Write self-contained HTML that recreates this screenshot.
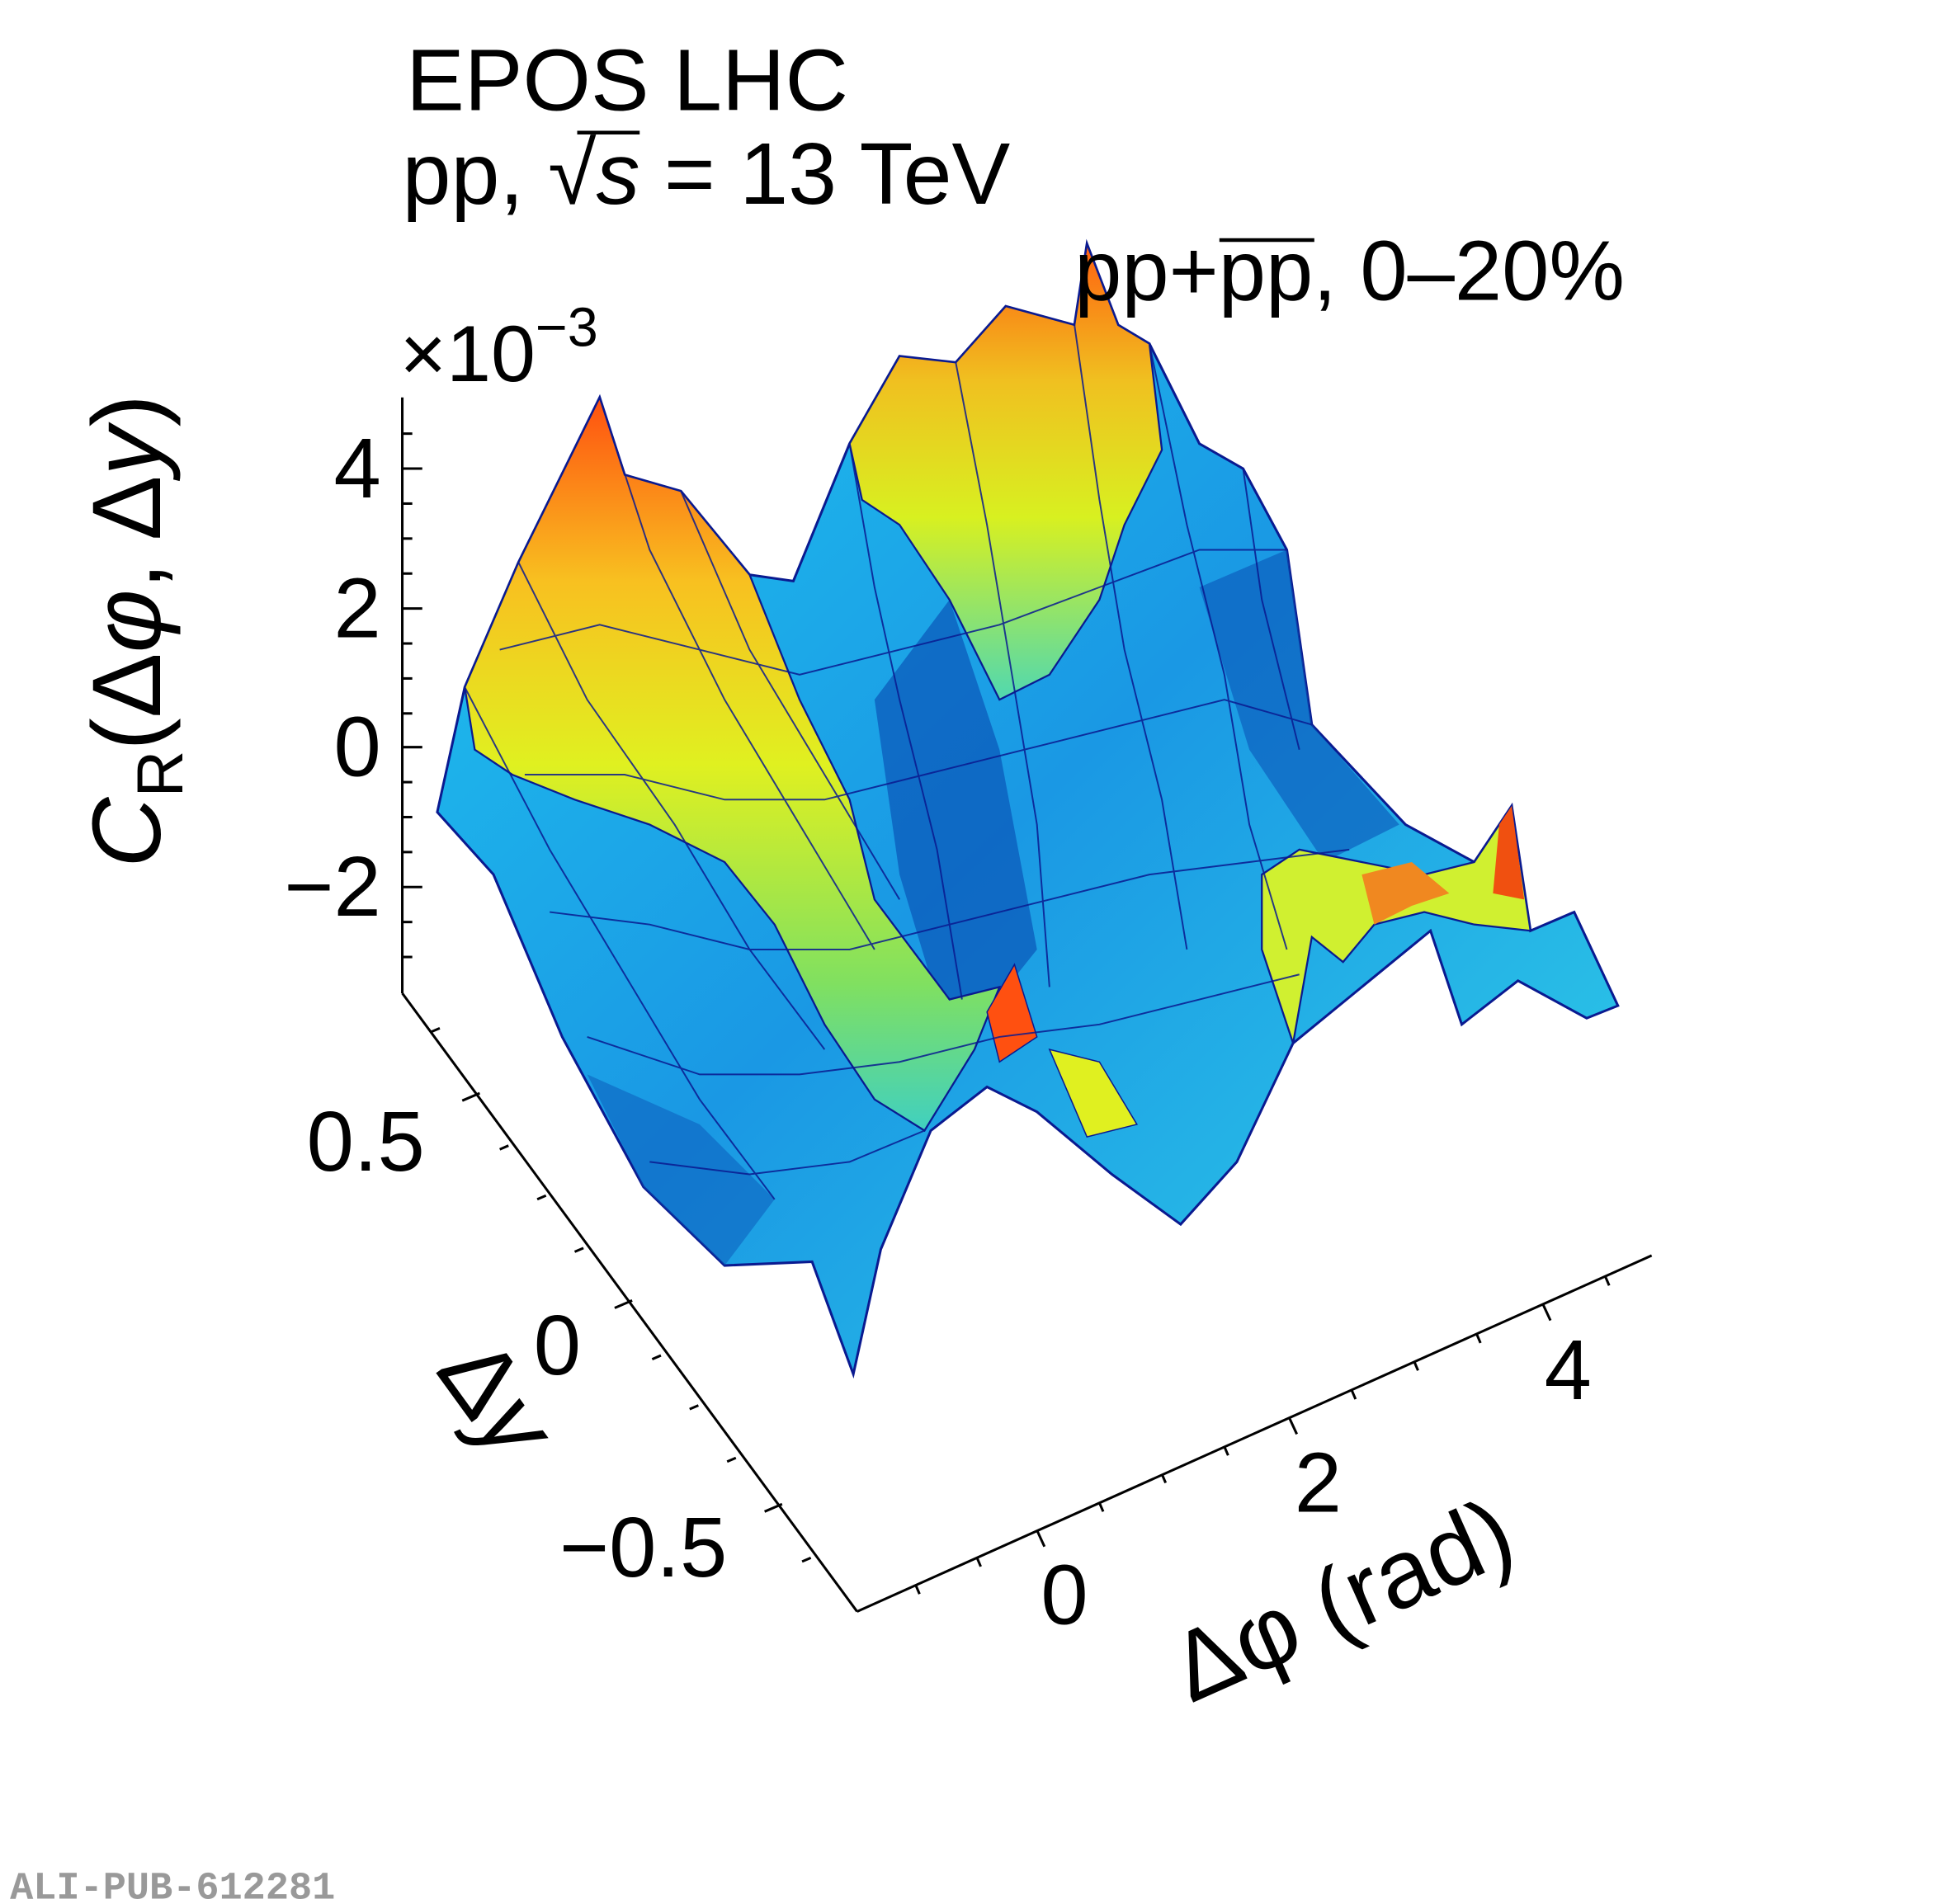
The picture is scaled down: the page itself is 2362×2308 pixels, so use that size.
<!DOCTYPE html>
<html><head><meta charset="utf-8"><style>
html,body{margin:0;padding:0;background:#fff;}
svg{display:block;}
text{font-family:"Liberation Sans",sans-serif;fill:#000;}
</style></head><body>
<svg width="2362" height="2308" viewBox="0 0 1560 1524" xmlns="http://www.w3.org/2000/svg">
<defs>
<linearGradient id="gb" x1="0" y1="0" x2="1" y2="1">
<stop offset="0" stop-color="#20c8f0"/><stop offset="0.5" stop-color="#1a98e4"/><stop offset="1" stop-color="#30d0e8"/>
</linearGradient>
<linearGradient id="gy" x1="0" y1="0" x2="0" y2="1">
<stop offset="0" stop-color="#ff5010"/><stop offset="0.25" stop-color="#f8c020"/><stop offset="0.5" stop-color="#e0f020"/><stop offset="0.8" stop-color="#80e060"/><stop offset="1" stop-color="#40d0c0"/>
</linearGradient>
<linearGradient id="gy2" x1="0" y1="0" x2="0" y2="1">
<stop offset="0" stop-color="#ff6010"/><stop offset="0.3" stop-color="#f0c020"/><stop offset="0.6" stop-color="#d8f020"/><stop offset="1" stop-color="#50d8b0"/>
</linearGradient>
</defs>
<polygon fill="url(#gb)" stroke="#0a1a90" stroke-width="2" points="350,650 372,550 415,450 480,318 500,380 545,393 600,460 635,465 680,355 720,285 765,290 805,245 860,260 870,195 895,260 920,275 960,355 995,375 1030,440 1050,580 1125,660 1180,690 1210,645 1225,745 1260,730 1295,805 1270,815 1215,785 1170,820 1145,745 1035,835 990,930 945,980 890,940 830,890 790,870 745,905 705,1000 683,1100 650,1010 580,1013 515,950 450,830 395,700"/>
<polygon fill="#0a55b8" opacity="0.7" points="700,560 760,480 800,600 830,760 790,810 750,800 720,700"/>
<polygon fill="#0a55b8" opacity="0.6" points="960,470 1030,440 1050,580 1120,660 1060,690 1000,600"/>
<polygon fill="#0a55b8" opacity="0.5" points="470,860 560,900 620,960 580,1013 515,950"/>
<polygon fill="url(#gy)" stroke="#0a1a90" stroke-width="1.5" points="372,550 415,450 480,318 500,380 545,393 600,460 640,560 680,640 700,720 760,800 800,790 780,840 740,905 700,880 660,820 620,740 580,690 520,660 460,640 410,620 380,600"/>
<polygon fill="url(#gy2)" stroke="#0a1a90" stroke-width="1.5" points="680,355 720,285 765,290 805,245 860,260 870,195 895,260 920,275 930,360 900,420 880,480 840,540 800,560 760,480 720,420 690,400"/>
<polygon fill="#d0f030" stroke="#0a1a90" stroke-width="1.5" points="1010,700 1040,680 1090,690 1140,700 1180,690 1210,645 1225,745 1180,740 1140,730 1100,740 1075,770 1050,750 1035,835 1010,760"/>
<polygon fill="#f08820" points="1090,700 1130,690 1160,715 1130,725 1100,740"/>
<polygon fill="#f05010" points="1200,660 1210,645 1220,720 1195,715"/>
<polygon fill="#ff5010" stroke="#0a1a90" stroke-width="1" points="790,810 812,772 830,830 800,850"/>
<polygon fill="#e0f020" stroke="#0a1a90" stroke-width="1" points="840,840 880,850 910,900 870,910"/>
<g stroke="#0a1a90" stroke-width="1.3" fill="none" opacity="0.85">
<polyline points="372,550 440,680 500,780 560,880 620,960"/>
<polyline points="415,450 470,560 540,660 600,760 660,840"/>
<polyline points="480,318 520,440 580,560 640,660 700,760"/>
<polyline points="545,393 600,520 660,620 720,720"/>
<polyline points="680,355 700,470 720,560 750,680 770,800"/>
<polyline points="765,290 790,420 810,540 830,660 840,790"/>
<polyline points="860,260 880,400 900,520 930,640 950,760"/>
<polyline points="920,275 950,420 980,540 1000,660 1030,760"/>
<polyline points="995,375 1010,480 1040,600"/>
<polyline points="400,520 480,500 560,520 640,540 720,520 800,500 880,470 960,440 1030,440"/>
<polyline points="420,620 500,620 580,640 660,640 740,620 820,600 900,580 980,560 1050,580"/>
<polyline points="440,730 520,740 600,760 680,760 760,740 840,720 920,700 1000,690 1080,680"/>
<polyline points="470,830 560,860 640,860 720,850 800,830 880,820 960,800 1040,780"/>
<polyline points="520,930 600,940 680,930 740,905"/>
</g>
<g stroke="#000" stroke-width="2" fill="none">
<line x1="322" y1="318" x2="322" y2="795"/>
<line x1="322" y1="795" x2="686" y2="1290"/>
<line x1="686" y1="1290" x2="1322" y2="1005"/>
</g>
<g stroke="#000" stroke-width="2">
<line x1="322" y1="375" x2="338" y2="375"/><line x1="322" y1="487" x2="338" y2="487"/>
<line x1="322" y1="598" x2="338" y2="598"/><line x1="322" y1="710" x2="338" y2="710"/>
<line x1="322" y1="347" x2="330" y2="347"/><line x1="322" y1="403" x2="330" y2="403"/>
<line x1="322" y1="431" x2="330" y2="431"/><line x1="322" y1="459" x2="330" y2="459"/>
<line x1="322" y1="515" x2="330" y2="515"/><line x1="322" y1="543" x2="330" y2="543"/>
<line x1="322" y1="571" x2="330" y2="571"/><line x1="322" y1="626" x2="330" y2="626"/>
<line x1="322" y1="654" x2="330" y2="654"/><line x1="322" y1="682" x2="330" y2="682"/>
<line x1="322" y1="738" x2="330" y2="738"/><line x1="322" y1="766" x2="330" y2="766"/>
<line x1="370" y1="881" x2="384" y2="875"/><line x1="492" y1="1047" x2="506" y2="1041"/><line x1="612" y1="1210" x2="626" y2="1204"/>
<line x1="345" y1="826" x2="352" y2="823"/><line x1="400" y1="920" x2="407" y2="917"/><line x1="430" y1="960" x2="437" y2="957"/><line x1="460" y1="1002" x2="467" y2="999"/>
<line x1="522" y1="1088" x2="529" y2="1085"/><line x1="552" y1="1128" x2="559" y2="1125"/><line x1="582" y1="1170" x2="589" y2="1167"/><line x1="642" y1="1250" x2="649" y2="1247"/>
<line x1="830" y1="1225" x2="836" y2="1238"/><line x1="1032" y1="1135" x2="1038" y2="1148"/><line x1="1235" y1="1044" x2="1241" y2="1057"/>
<line x1="733" y1="1269" x2="736" y2="1276"/><line x1="782" y1="1247" x2="785" y2="1254"/><line x1="880" y1="1203" x2="883" y2="1210"/><line x1="930" y1="1180" x2="933" y2="1187"/><line x1="980" y1="1158" x2="983" y2="1165"/>
<line x1="1082" y1="1113" x2="1085" y2="1120"/><line x1="1132" y1="1090" x2="1135" y2="1097"/><line x1="1182" y1="1068" x2="1185" y2="1075"/><line x1="1285" y1="1022" x2="1288" y2="1029"/>
</g>
<text x="325" y="88" font-size="70">EPOS LHC</text>
<text x="322" y="163" font-size="70">pp, √<tspan font-style="italic">s</tspan> = 13 TeV</text>
<line x1="462" y1="106" x2="512" y2="106" stroke="#000" stroke-width="3"/>
<text x="860" y="240" font-size="68">pp+pp, 0–20%</text>
<line x1="976" y1="192" x2="1052" y2="192" stroke="#000" stroke-width="3"/>
<text x="320" y="305" font-size="64">×10<tspan font-size="44" dy="-28">−3</tspan></text>
<g font-size="68" text-anchor="end">
<text x="305" y="398">4</text><text x="305" y="510">2</text><text x="305" y="621">0</text><text x="305" y="733">−2</text>
<text x="340" y="937">0.5</text><text x="465" y="1100">0</text><text x="582" y="1262">−0.5</text>
</g>
<g font-size="68" text-anchor="middle">
<text x="852" y="1300">0</text><text x="1055" y="1210">2</text><text x="1255" y="1120">4</text>
</g>
<text transform="translate(128,505) rotate(-90)" font-size="78" text-anchor="middle"><tspan font-style="italic">C</tspan><tspan font-size="52" dy="18">R</tspan><tspan dy="-18">(Δ</tspan><tspan font-style="italic">φ</tspan>, Δ<tspan font-style="italic">y</tspan>)</text>
<text transform="translate(375,1135) rotate(54)" font-size="80" text-anchor="middle">Δ<tspan font-style="italic">y</tspan></text>
<text transform="translate(1085,1305) rotate(-24)" font-size="78" text-anchor="middle">Δφ (rad)</text>
<text x="8" y="1520" font-size="31" font-weight="bold" style="fill:#999;font-family:'Liberation Mono',monospace">ALI-PUB-612281</text>
</svg>
</body></html>
